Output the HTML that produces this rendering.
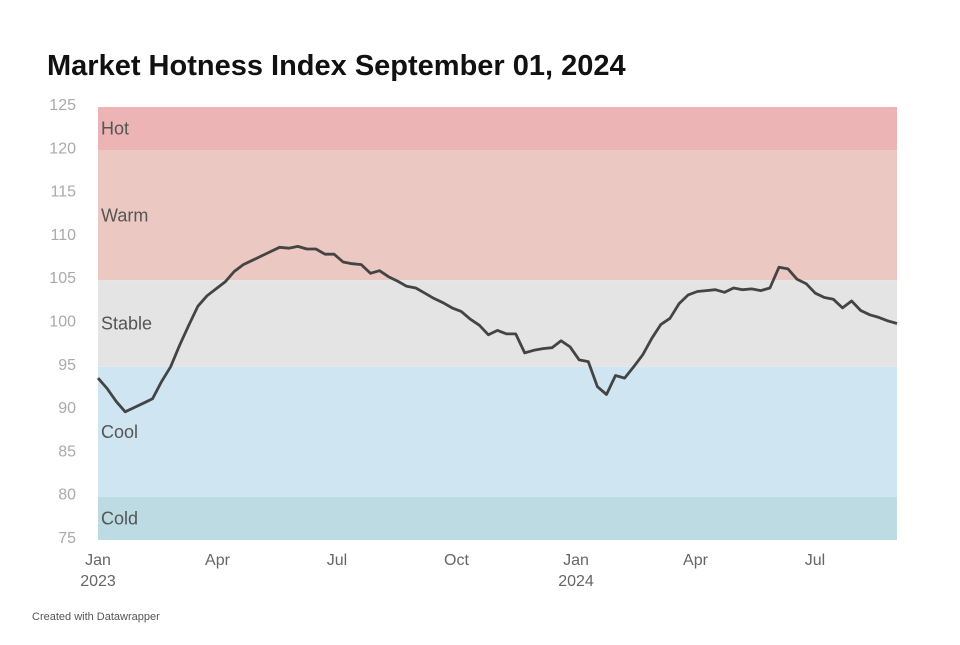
<!DOCTYPE html>
<html><head><meta charset="utf-8"><style>
body{margin:0;background:#fff;font-family:"Liberation Sans",sans-serif}
</style></head><body>
<svg width="960" height="640" xmlns="http://www.w3.org/2000/svg">
<text x="47" y="75" font-size="29" font-weight="bold" fill="#111">Market Hotness Index September 01, 2024</text>
<g id="bands"></g><g id="yaxis"></g><g id="xaxis"></g><g id="line"></g>
<text x="32" y="620" font-size="11" fill="#555">Created with Datawrapper</text>
</svg>
<script>
const bandNames=["Hot","Warm","Stable","Cool","Cold"];
const bandTops=[125,120,105,95,80];
const bandBottoms=[120,105,95,80,75];
const bandColors=["#ecb4b4","#ebc8c2","#e4e4e4","#cfe5f2","#bcdbe3"];
const yTicks=[125,120,115,110,105,100,95,90,85,80,75];
const xTickLabels=["Jan","Apr","Jul","Oct","Jan","Apr","Jul"];
const xTickYears=["2023","","","","2024","",""];
const xTickMonths=[0,3,6,9,12,15,18];
const values=[93.7,92.5,91,89.8,90.3,90.8,91.3,93.3,95,97.5,99.8,102,103.2,104,104.8,106,106.8,107.3,107.8,108.3,108.8,108.7,108.9,108.6,108.6,108,108,107.1,106.9,106.8,105.8,106.1,105.4,104.9,104.3,104.1,103.5,102.9,102.4,101.8,101.4,100.5,99.8,98.7,99.2,98.8,98.8,96.6,96.9,97.1,97.2,98,97.3,95.8,95.6,92.7,91.8,94,93.7,95,96.4,98.3,99.9,100.6,102.3,103.3,103.7,103.8,103.9,103.6,104.1,103.9,104,103.8,104.1,106.5,106.3,105.1,104.6,103.5,103,102.8,101.8,102.6,101.5,101,100.7,100.3,100];
const X0=98,X1=897,Y0=540,Y1=107;
const y=v=>Y0-(v-75)/(125-75)*(Y0-Y1);
const xi=i=>X0+i*(X1-X0)/(values.length-1);
const xm=m=>X0+m*(576-X0)/12;
const NS="http://www.w3.org/2000/svg";
function mk(t,a,p){const e=document.createElementNS(NS,t);for(const k in a)e.setAttribute(k,a[k]);p.appendChild(e);return e;}
const gb=document.getElementById('bands');
bandNames.forEach((n,i)=>{
 const r=mk('rect',{x:X0,y:y(bandTops[i]),width:X1-X0,height:y(bandBottoms[i])-y(bandTops[i]),fill:bandColors[i]},gb);
 
 
 const t=mk('text',{x:X0+3,y:(y(bandTops[i])+y(bandBottoms[i]))/2+6,'font-size':18,fill:'#555'},gb);
 t.textContent=n;
 
 
});
const gy=document.getElementById('yaxis');
yTicks.forEach(v=>{
 const t=mk('text',{x:76,y:y(v)+3,'font-size':16,fill:'#aaa','text-anchor':'end'},gy);
 t.textContent=v;
 
 
});
const gx=document.getElementById('xaxis');
xTickLabels.forEach((l,i)=>{
 const t=mk('text',{x:xm(xTickMonths[i]),y:565,'font-size':16,fill:'#666','text-anchor':'middle'},gx);
 t.textContent=l;
 
 
 if(xTickYears[i]){
  const u=mk('text',{x:xm(xTickMonths[i]),y:586,'font-size':16,fill:'#666','text-anchor':'middle'},gx);
  u.textContent=xTickYears[i];
  
  
 }
});
const p=mk('polyline',{points:values.map((v,i)=>xi(i).toFixed(1)+','+y(v).toFixed(1)).join(' '),fill:'none',stroke:'#444','stroke-width':2.8,'stroke-linejoin':'round'},document.getElementById('line'));


</script>
</body></html>
